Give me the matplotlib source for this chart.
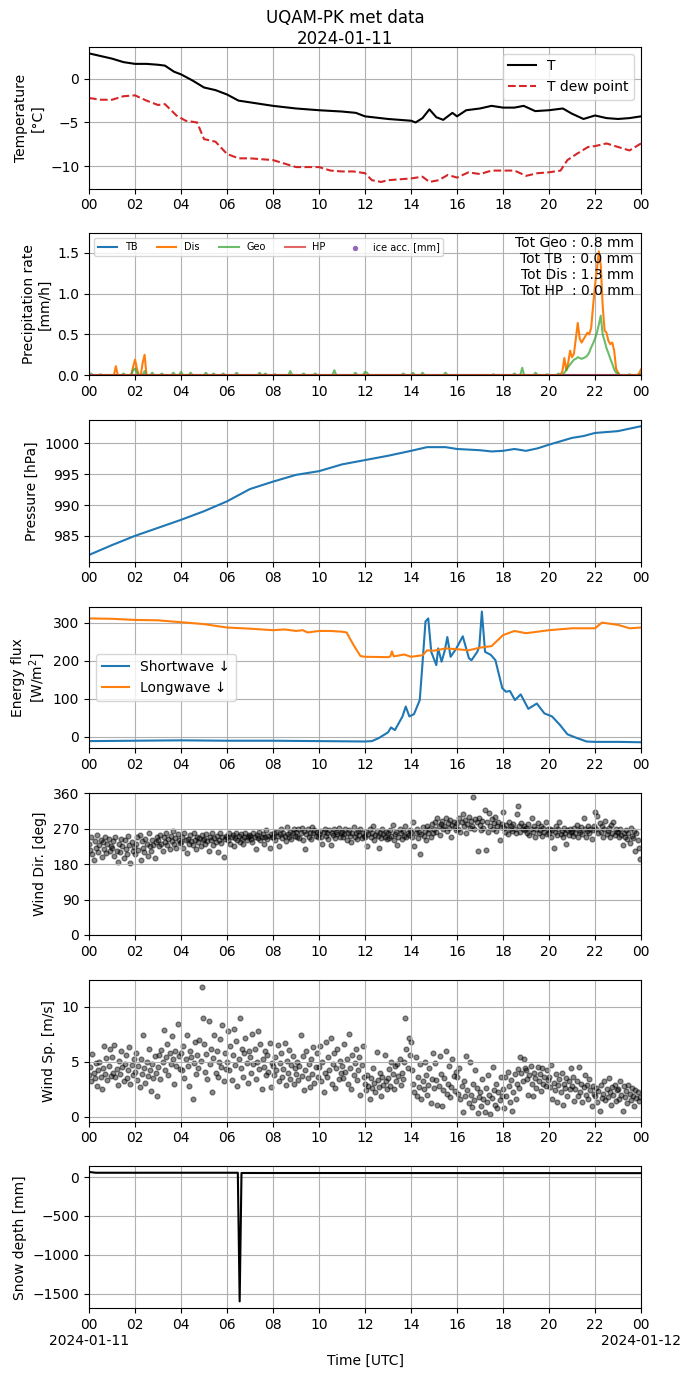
import numpy as np
import pandas as pd
import matplotlib
matplotlib.use("Agg")
import matplotlib.pyplot as plt
import matplotlib.dates as mdates
from matplotlib.ticker import FuncFormatter

# --- data ---
DAY = pd.Timestamp("2024-01-11")

t_hours = [0, 0.5, 1, 1.5, 2, 2.5, 3, 3.3, 3.7, 4, 4.5, 5, 5.5, 6, 6.5, 7, 8, 9, 10, 11,
           11.6, 12, 13, 14, 14.2, 14.5, 14.8, 15.1, 15.4, 15.8, 16, 16.4, 17, 17.5, 18,
           18.5, 18.9, 19.4, 20, 20.6, 21, 21.5, 22, 22.5, 23, 23.5, 24]
t_air = [2.9, 2.6, 2.3, 1.9, 1.7, 1.7, 1.6, 1.5, 0.8, 0.5, -0.2, -1.0, -1.3, -1.8, -2.5, -2.7,
         -3.1, -3.4, -3.6, -3.75, -3.9, -4.3, -4.6, -4.8, -5.0, -4.5, -3.5, -4.4, -4.7, -3.9,
         -4.3, -3.6, -3.4, -3.1, -3.3, -3.3, -3.1, -3.7, -3.6, -3.4, -4.0, -4.6, -4.2, -4.5,
         -4.6, -4.5, -4.3]

td_hours = [0, 0.5, 1, 1.5, 2, 2.5, 3, 3.3, 3.8, 4.2, 4.7, 5, 5.5, 6, 6.5, 7, 8, 8.5, 9, 10,
            10.5, 11, 11.5, 12, 12.3, 12.7, 13, 14, 14.5, 14.8, 15.2, 15.6, 16, 16.5, 17,
            17.5, 18, 18.5, 19, 19.5, 20, 20.5, 20.8, 21.2, 21.7, 22, 22.5, 23, 23.5, 24]
t_dew = [-2.2, -2.4, -2.4, -2.0, -1.9, -2.5, -3.0, -2.9, -4.2, -4.8, -5.0, -6.9, -7.2, -8.6,
         -9.1, -9.1, -9.3, -9.7, -10.1, -10.1, -10.5, -10.6, -10.6, -10.8, -11.6, -11.8,
         -11.6, -11.4, -11.2, -11.8, -11.6, -11.0, -11.3, -10.7, -10.9, -10.5, -10.5, -10.5,
         -11.1, -10.8, -10.7, -10.5, -9.3, -8.6, -7.8, -7.7, -7.4, -7.8, -8.2, -7.4]

# precipitation rate, 5-min steps; only non-zero steps are listed
dis_events = {1.17: 0.11, 1.92: 0.10, 2.0: 0.19, 2.08: 0.08, 2.33: 0.15, 2.42: 0.25,
              20.58: 0.05, 20.67: 0.21, 20.75: 0.06, 20.83: 0.15, 20.92: 0.30, 21.0: 0.22,
              21.08: 0.26, 21.17: 0.45, 21.25: 0.64, 21.33: 0.45, 21.42: 0.40, 21.5: 0.44,
              21.58: 0.48, 21.67: 0.52, 21.75: 0.50, 21.83: 0.58, 21.92: 0.85, 22.0: 1.10,
              22.08: 1.30, 22.17: 1.52, 22.25: 1.35, 22.33: 0.85, 22.42: 0.55, 22.5: 0.52,
              22.58: 0.42, 22.67: 0.38, 22.75: 0.40, 22.83: 0.30, 22.92: 0.08, 23.0: 0.03,
              23.92: 0.02, 24.0: 0.07}
geo_events = {0.08: 0.02, 0.5: 0.01, 1.5: 0.02, 1.92: 0.06, 2.0: 0.08, 2.08: 0.03,
              2.42: 0.05, 2.75: 0.03, 3.17: 0.02, 3.67: 0.03, 4.0: 0.04, 4.42: 0.03,
              5.08: 0.03, 5.42: 0.02, 5.83: 0.02, 6.42: 0.03, 7.42: 0.03, 7.67: 0.02,
              8.08: 0.01, 8.75: 0.05, 9.33: 0.02, 9.83: 0.02, 10.67: 0.06, 11.58: 0.03,
              12.0: 0.04, 12.08: 0.03, 13.67: 0.02, 14.08: 0.03, 14.5: 0.03, 15.5: 0.03,
              17.58: 0.01, 18.5: 0.02, 18.83: 0.09, 19.42: 0.03, 19.92: 0.01, 20.42: 0.02,
              20.67: 0.03, 20.75: 0.06, 20.83: 0.10, 20.92: 0.13, 21.0: 0.16, 21.08: 0.19,
              21.17: 0.20, 21.25: 0.22, 21.33: 0.21, 21.42: 0.20, 21.5: 0.21, 21.58: 0.22,
              21.67: 0.24, 21.75: 0.28, 21.83: 0.34, 21.92: 0.39, 22.0: 0.45, 22.08: 0.52,
              22.17: 0.62, 22.25: 0.73, 22.33: 0.50, 22.42: 0.42, 22.5: 0.33, 22.58: 0.27,
              22.67: 0.20, 22.75: 0.14, 22.83: 0.07, 22.92: 0.03, 23.0: 0.02, 23.5: 0.01,
              24.0: 0.02}
totals_text = "Tot Geo : 0.8 mm\nTot TB  : 0.0 mm\nTot Dis : 1.3 mm\nTot HP  : 0.0 mm"

p_hours = [0, 1, 2, 3, 4, 5, 6, 7, 8, 9, 10, 11, 12, 13, 14, 14.7, 15.5, 16, 17, 17.5, 18,
           18.5, 19, 19.5, 20, 21, 21.5, 22, 23, 24]
pressure = [981.9, 983.5, 985.0, 986.3, 987.6, 989.0, 990.6, 992.6, 993.8, 994.9, 995.5,
            996.6, 997.3, 998.0, 998.8, 999.4, 999.4, 999.1, 998.9, 998.7, 998.8, 999.1,
            998.8, 999.2, 999.8, 1000.9, 1001.2, 1001.7, 1002.0, 1002.8]

lw_hours = [0, 1, 2, 3, 4, 5, 6, 7, 8, 8.5, 9, 9.3, 9.5, 10, 10.5, 11, 11.2, 11.5, 11.8, 12,
            13, 13.1, 13.17, 13.25, 13.7, 14, 14.5, 14.7, 15, 15.5, 16, 16.5, 17, 17.5, 18,
            18.5, 19, 19.5, 20, 21, 22, 22.3, 23, 23.5, 24]
lw_down = [312, 311, 308, 307, 302, 297, 288, 285, 281, 283, 279, 281, 275, 279, 279, 277,
           275, 242, 213, 211, 210, 212, 225, 212, 217, 211, 215, 228, 227, 233, 231, 228,
           235, 239, 268, 279, 273, 277, 281, 286, 286, 301, 295, 286, 288]

sw_hours = [0, 2, 4, 6, 8, 10, 12, 12.3, 12.6, 13.0, 13.13, 13.3, 13.63, 13.77, 13.93, 14.13,
            14.38, 14.5, 14.63, 14.75, 14.88, 15.1, 15.18, 15.33, 15.47, 15.58, 15.72,
            15.97, 16.25, 16.52, 16.63, 16.88, 16.97, 17.08, 17.22, 17.47, 17.67, 17.97,
            18.13, 18.3, 18.52, 18.77, 19.1, 19.47, 19.8, 20.13, 20.47, 20.8, 21.13, 21.63,
            22, 23, 24]
sw_down = [-11, -10, -9, -10, -10, -11, -12, -11, -3, 12, 25, 18, 54, 80, 54, 60, 97, 194,
           304, 312, 224, 189, 233, 198, 228, 263, 211, 233, 265, 207, 202, 224, 238, 330,
           224, 216, 202, 128, 119, 121, 97, 112, 74, 88, 62, 54, 32, 7, -1, -12, -13, -13,
           -14]

# wind, 3-min samples (20 per hour), one row per hour
wind_dir = [
    [232, 215, 248, 205, 190, 238, 222, 255, 210, 228, 242, 198, 235, 218, 250, 207, 230, 245, 212, 226],
    [220, 238, 200, 250, 214, 185, 232, 210, 245, 226, 195, 240, 218, 205, 252, 228, 182, 236, 212, 224],
    [205, 230, 248, 215, 255, 190, 238, 222, 210, 245, 232, 200, 258, 225, 214, 240, 228, 195, 236, 250],
    [240, 225, 255, 232, 212, 248, 236, 260, 228, 244, 218, 252, 238, 264, 230, 246, 222, 256, 240, 234],
    [236, 250, 222, 258, 240, 208, 245, 232, 255, 238, 228, 260, 242, 218, 250, 235, 246, 226, 254, 240],
    [244, 230, 256, 238, 214, 250, 242, 260, 228, 246, 236, 252, 210, 240, 258, 234, 248, 198, 244, 252],
    [250, 240, 258, 232, 248, 254, 226, 246, 260, 242, 252, 236, 256, 244, 230, 250, 258, 240, 248, 254],
    [252, 244, 236, 258, 248, 218, 254, 246, 262, 240, 250, 256, 232, 248, 266, 244, 252, 222, 256, 250],
    [248, 258, 240, 262, 252, 226, 256, 270, 246, 260, 252, 238, 274, 256, 248, 262, 244, 258, 268, 252],
    [262, 250, 270, 246, 258, 272, 240, 264, 218, 256, 268, 250, 260, 244, 274, 258, 266, 252, 262, 248],
    [256, 264, 248, 230, 262, 270, 252, 258, 244, 266, 228, 260, 254, 268, 246, 262, 256, 272, 250, 258],
    [262, 248, 256, 270, 240, 258, 266, 252, 236, 260, 274, 250, 258, 244, 264, 254, 268, 246, 258, 252],
    [250, 262, 226, 256, 268, 248, 258, 276, 240, 254, 264, 252, 222, 260, 246, 270, 256, 250, 262, 244],
    [258, 246, 266, 252, 280, 240, 256, 262, 228, 250, 270, 258, 244, 264, 252, 276, 248, 260, 254, 266],
    [262, 250, 288, 226, 258, 270, 246, 262, 205, 256, 274, 252, 264, 240, 278, 258, 268, 250, 282, 260],
    [270, 286, 262, 296, 276, 254, 282, 290, 268, 278, 298, 264, 284, 272, 292, 248, 280, 288, 274, 266],
    [284, 270, 296, 262, 288, 306, 276, 292, 258, 282, 300, 272, 290, 278, 350, 268, 294, 286, 212, 298],
    [280, 266, 290, 272, 318, 215, 286, 262, 310, 276, 294, 270, 284, 300, 264, 278, 288, 242, 274, 282],
    [312, 272, 262, 280, 256, 286, 268, 276, 264, 282, 270, 258, 308, 328, 276, 262, 284, 270, 278, 266],
    [272, 260, 282, 254, 268, 296, 262, 276, 248, 270, 284, 258, 266, 278, 252, 272, 262, 286, 256, 268],
    [258, 270, 250, 266, 222, 262, 276, 254, 268, 288, 256, 264, 248, 272, 260, 230, 266, 254, 270, 262],
    [264, 252, 272, 258, 280, 248, 266, 262, 274, 256, 298, 268, 250, 264, 276, 258, 270, 244, 266, 278],
    [312, 270, 302, 258, 284, 262, 276, 250, 268, 290, 256, 264, 272, 248, 280, 260, 288, 254, 268, 262],
    [262, 248, 270, 254, 228, 260, 250, 266, 244, 258, 234, 272, 252, 246, 264, 212, 258, 240, 222, 192],
]
wind_sp = [
    [3.8, 4.5, 3.2, 5.7, 4.0, 3.5, 4.9, 2.8, 4.2, 5.0, 3.6, 2.5, 4.4, 6.4, 3.9, 5.3, 3.3, 4.6, 6.2, 3.7],
    [5.4, 4.0, 6.5, 3.6, 4.3, 2.9, 5.1, 3.9, 6.0, 4.5, 3.2, 4.8, 5.6, 3.5, 4.2, 6.3, 3.0, 4.7, 3.8, 5.2],
    [4.1, 5.8, 3.3, 4.6, 2.7, 5.2, 3.9, 7.4, 4.4, 3.1, 5.0, 3.7, 6.2, 4.2, 2.3, 4.8, 3.5, 5.5, 4.0, 1.9],
    [4.5, 5.6, 3.4, 6.1, 5.0, 7.9, 4.2, 5.4, 6.6, 3.8, 5.8, 4.8, 7.3, 5.2, 3.0, 6.0, 4.6, 8.4, 5.5, 4.3],
    [5.8, 4.2, 6.4, 3.5, 5.2, 7.4, 4.6, 2.8, 6.0, 5.4, 1.6, 4.9, 6.8, 3.9, 5.6, 4.4, 7.0, 5.1, 11.8, 9.0],
    [6.6, 4.1, 5.7, 3.4, 8.7, 4.8, 6.2, 2.2, 5.3, 7.4, 4.0, 6.0, 3.6, 5.0, 7.1, 4.5, 8.3, 3.2, 5.8, 4.3],
    [5.0, 7.8, 4.2, 6.4, 3.3, 5.6, 8.0, 4.7, 6.9, 2.8, 5.2, 9.0, 4.4, 6.2, 3.6, 5.8, 7.2, 4.9, 3.1, 6.0],
    [5.4, 4.0, 7.5, 4.8, 6.2, 3.4, 5.0, 7.8, 4.3, 6.6, 2.5, 5.2, 4.5, 6.0, 3.8, 5.6, 4.1, 6.7, 2.7, 4.9],
    [4.6, 3.8, 5.4, 4.2, 6.5, 3.2, 4.9, 5.8, 3.6, 4.3, 6.7, 2.9, 5.1, 4.0, 6.1, 3.4, 4.7, 5.5, 3.0, 4.4],
    [3.9, 5.0, 3.3, 4.6, 7.4, 3.7, 5.5, 2.4, 4.2, 6.0, 3.5, 4.8, 2.7, 5.2, 3.9, 6.3, 3.1, 4.5, 5.8, 3.6],
    [4.5, 6.4, 3.2, 5.0, 2.2, 4.0, 6.8, 3.6, 5.4, 4.2, 7.2, 3.0, 4.8, 5.8, 2.6, 4.4, 6.2, 3.4, 5.1, 4.0],
    [4.6, 3.5, 6.6, 4.1, 5.2, 3.0, 7.5, 4.4, 2.5, 5.6, 3.8, 4.9, 6.2, 3.3, 4.2, 5.4, 2.0, 4.7, 6.4, 3.6],
    [3.0, 2.4, 3.8, 2.8, 1.6, 3.5, 2.6, 4.4, 3.1, 2.2, 5.9, 3.3, 2.7, 4.0, 1.9, 3.6, 2.9, 5.6, 3.2, 2.5],
    [3.5, 4.3, 2.8, 5.0, 3.9, 2.5, 4.6, 3.2, 4.8, 3.7, 5.2, 2.9, 4.0, 3.4, 5.0, 9.0, 6.2, 4.4, 7.2, 5.6],
    [6.8, 4.2, 3.0, 2.2, 5.4, 1.9, 3.6, 2.7, 4.8, 1.6, 3.2, 2.5, 5.0, 3.8, 2.0, 2.9, 4.4, 1.2, 3.4, 5.8],
    [2.6, 4.9, 3.3, 1.1, 2.8, 5.5, 3.9, 1.0, 2.4, 3.5, 6.0, 2.1, 3.0, 4.6, 1.8, 2.7, 5.2, 3.7, 2.3, 4.1],
    [3.6, 2.1, 4.4, 1.6, 2.8, 0.4, 3.2, 1.9, 5.5, 2.4, 1.2, 5.0, 2.0, 0.9, 3.0, 1.5, 4.2, 2.6, 0.3, 1.8],
    [2.2, 1.0, 3.4, 1.6, 0.4, 2.6, 1.3, 3.8, 2.0, 0.2, 1.7, 4.5, 2.4, 1.1, 3.0, 0.8, 2.2, 1.5, 3.6, 1.9],
    [2.5, 0.8, 3.6, 1.9, 4.1, 2.8, 1.3, 3.3, 0.5, 2.2, 3.9, 1.6, 3.0, 4.3, 2.6, 5.4, 4.0, 3.2, 5.2, 4.4],
    [4.2, 3.4, 2.0, 3.8, 4.6, 3.0, 1.9, 4.0, 3.5, 2.6, 4.5, 3.2, 3.9, 2.3, 4.4, 3.0, 3.6, 2.8, 4.2, 3.3],
    [3.6, 2.7, 4.7, 1.6, 3.1, 2.4, 3.9, 1.3, 2.9, 3.4, 2.2, 4.0, 1.1, 3.0, 2.6, 3.5, 1.9, 3.2, 2.5, 4.4],
    [2.8, 3.6, 1.4, 2.5, 3.2, 1.9, 4.5, 2.2, 3.0, 1.3, 2.7, 3.8, 2.0, 2.9, 1.6, 3.4, 2.4, 1.0, 2.8, 2.1],
    [1.9, 2.6, 1.3, 2.3, 0.5, 2.9, 1.7, 2.1, 3.2, 1.5, 2.5, 1.8, 3.5, 2.2, 1.1, 2.7, 2.0, 2.9, 1.4, 2.4],
    [2.5, 1.6, 3.2, 2.0, 0.5, 2.8, 1.8, 2.3, 1.2, 2.9, 2.1, 1.5, 2.6, 1.9, 1.0, 2.4, 1.7, 2.2, 1.4, 1.8],
]

snow_hours = [0, 0.3, 6.47, 6.55, 6.63, 24]
snow_depth = [65, 55, 55, -1600, 52, 50]


def to_time(hours):
    return DAY + pd.to_timedelta(np.asarray(hours, dtype=float), unit="h")


# build the 5-min precipitation series from the listed steps
prec_hours = np.arange(0, 24 * 12 + 1) / 12
dis_rate = np.zeros(len(prec_hours))
geo_rate = np.zeros(len(prec_hours))
for h, v in dis_events.items():
    dis_rate[int(round(h * 12))] = v
for h, v in geo_events.items():
    geo_rate[int(round(h * 12))] = v
zero_rate = np.zeros(len(prec_hours))

wind_hours = (np.arange(24)[:, None] + np.arange(20)[None, :] / 20).ravel()
wind_dir_flat = np.array(wind_dir).ravel()
wind_sp_flat = np.array(wind_sp).ravel()

# --- figure ---
fig, axes = plt.subplots(7, 1, figsize=(6.9, 13.77), dpi=100)
fig.subplots_adjust(left=0.129, right=0.929, top=0.966, bottom=0.05, hspace=0.317)
fig.suptitle("UQAM-PK met data\n2024-01-11", fontsize=12, y=0.9935)

ax = axes[0]
ax.plot(to_time(t_hours), t_air, color="k", label="T")
ax.plot(to_time(td_hours), t_dew, color="tab:red", ls="--", label="T dew point")
ax.set_ylim(-12.55, 3.65)
ax.set_ylabel("Temperature\n[°C]")
ax.legend(loc="upper right")

ax = axes[1]
pt = to_time(prec_hours)
ax.plot(pt, zero_rate, color="tab:blue", label="TB")
ax.plot(pt, dis_rate, color="tab:orange", label="Dis")
ax.plot(pt, geo_rate, color="tab:green", alpha=0.7, label="Geo")
ax.plot(pt, zero_rate, color="tab:red", alpha=0.7, label="HP")
ax.scatter([], [], color="tab:purple", s=8, label="ice acc. [mm]")
ax.set_ylim(0, 1.74)
ax.set_ylabel("Precipitation rate\n[mm/h]")
ax.legend(loc="upper left", ncol=5, fontsize=7)
ax.text(0.987, 0.985, totals_text, transform=ax.transAxes, ha="right", va="top", fontsize=10)

ax = axes[2]
ax.plot(to_time(p_hours), pressure, color="tab:blue")
ax.set_ylim(980.8, 1003.8)
ax.set_ylabel("Pressure [hPa]")

ax = axes[3]
ax.plot(to_time(sw_hours), sw_down, color="tab:blue", label="Shortwave ↓")
ax.plot(to_time(lw_hours), lw_down, color="tab:orange", label="Longwave ↓")
ax.set_ylim(-30, 343)
ax.set_ylabel("Energy flux\n[W/m$^2$]")
ax.legend(loc="center left")

ax = axes[4]
ax.scatter(to_time(wind_hours), wind_dir_flat, s=12, color="k", alpha=0.45)
ax.set_ylim(0, 360)
ax.set_yticks([0, 90, 180, 270, 360])
ax.set_ylabel("Wind Dir. [deg]")

ax = axes[5]
ax.scatter(to_time(wind_hours), wind_sp_flat, s=12, color="k", alpha=0.45)
ax.set_ylim(-0.45, 12.45)
ax.set_ylabel("Wind Sp. [m/s]")

ax = axes[6]
ax.plot(to_time(snow_hours), snow_depth, color="k")
ax.set_ylim(-1687, 136)
ax.set_yticks([0, -500, -1000, -1500])
ax.set_ylabel("Snow depth [mm]")
ax.set_xlabel("Time [UTC]")


def hour_with_date(x, pos=None):
    d = mdates.num2date(x)
    if d.hour == 0:
        return d.strftime("%H\n%Y-%m-%d")
    return d.strftime("%H")


for i, ax in enumerate(axes):
    ax.set_xlim(DAY, DAY + pd.Timedelta(days=1))
    ax.xaxis.set_major_locator(mdates.HourLocator(byhour=range(0, 24, 2)))
    if i == len(axes) - 1:
        ax.xaxis.set_major_formatter(FuncFormatter(hour_with_date))
    else:
        ax.xaxis.set_major_formatter(mdates.DateFormatter("%H"))
    ax.grid(True)

fig.savefig("out.png", dpi=100)
